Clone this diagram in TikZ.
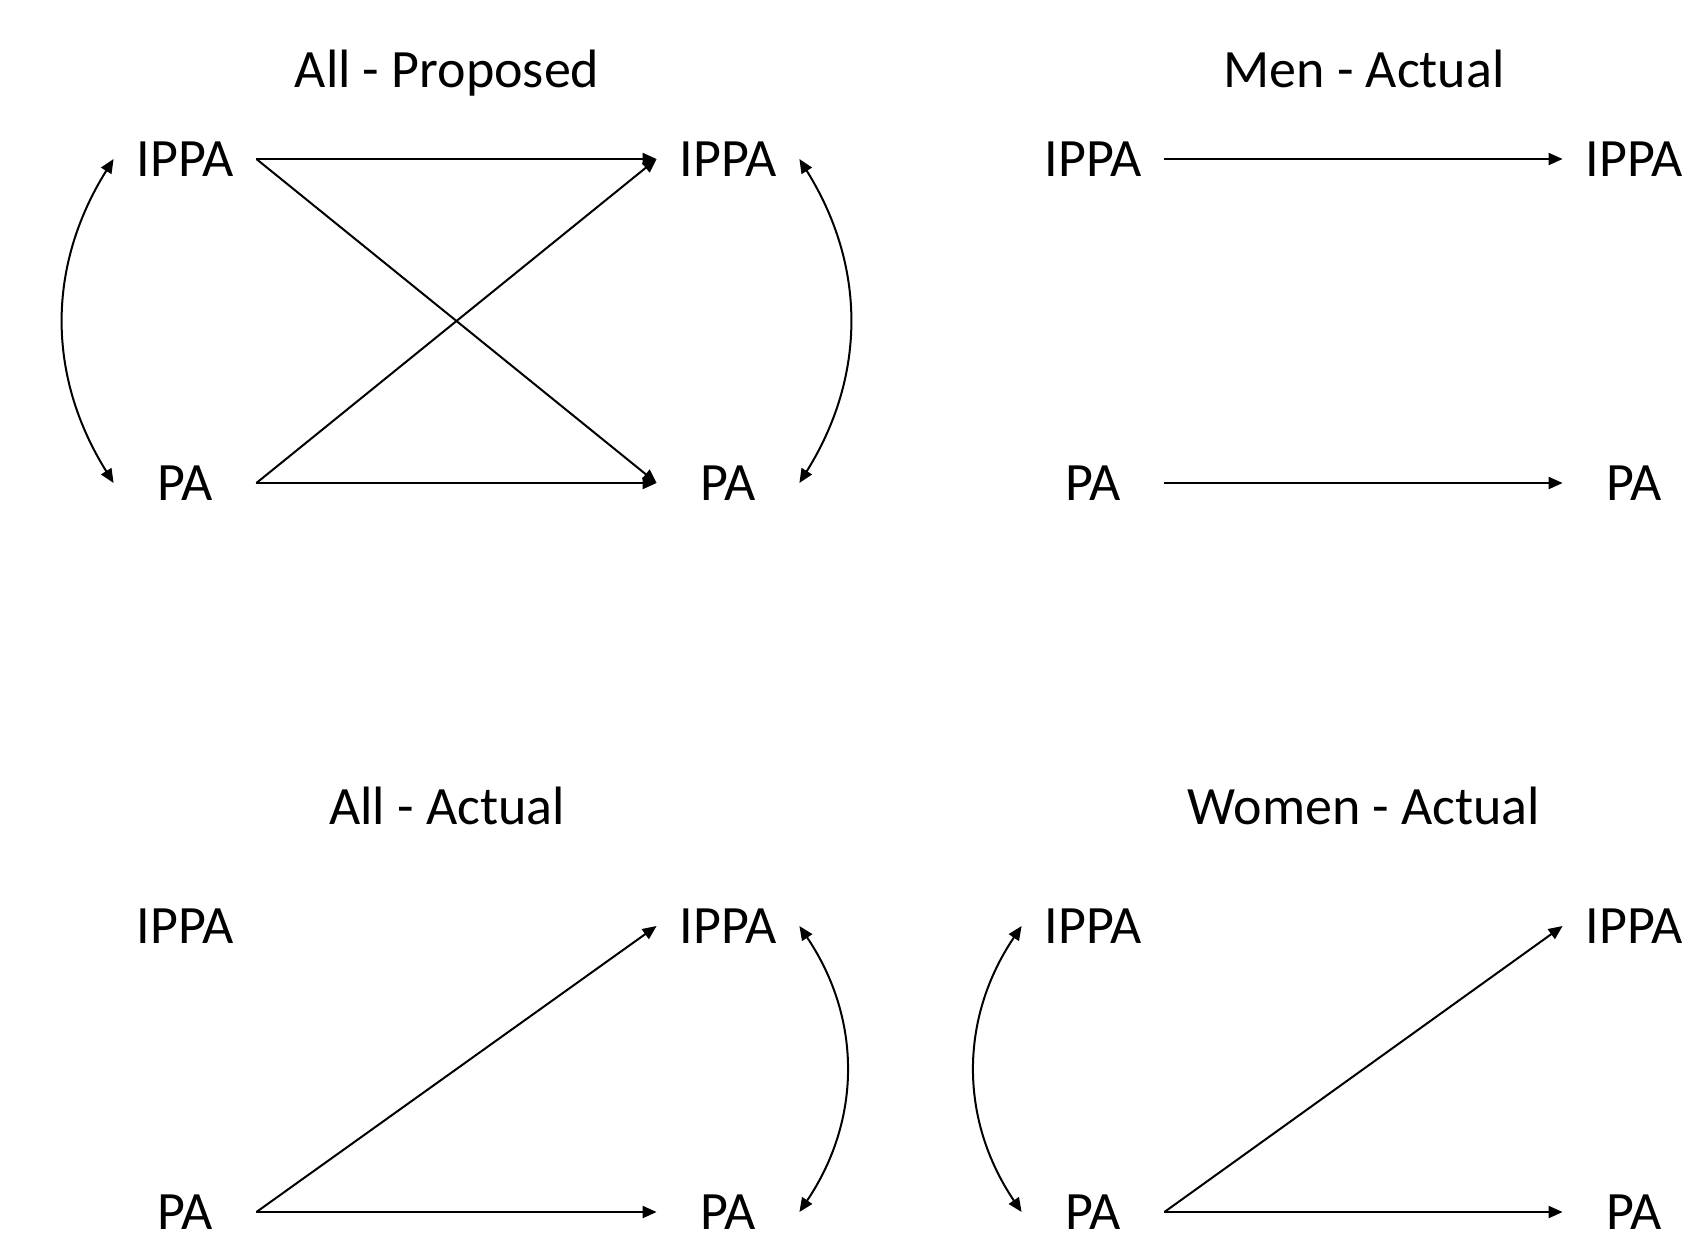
\documentclass[tikz,border=0pt]{standalone}
\usepackage{fontspec}
\setmainfont{Carlito}
\usetikzlibrary{arrows.meta}
\begin{document}
\begin{tikzpicture}[x=0.5pt,y=-0.5pt,
  var/.style={font=\fontsize{27}{32}\selectfont, minimum width=71pt, inner sep=0pt, anchor=center},
  ttl/.style={font=\fontsize{27}{32}\selectfont, anchor=base, inner sep=0pt},
  arr/.style={-{Triangle[length=7pt,width=6pt]}, line width=1pt},
  darr/.style={{Triangle[length=7pt,width=6pt]}-{Triangle[length=7pt,width=6pt]}, line width=1pt}]
\useasboundingbox (0,0) rectangle (1708,1239);
% All - Proposed
\node[ttl] (t1) at (447,87) {All - Proposed};
\node[var] (a1) at (185,159) {IPPA};
\node[var] (a2) at (185,483) {PA};
\node[var] (a3) at (728,159) {IPPA};
\node[var] (a4) at (728,483) {PA};
\draw[arr] (a1.east) -- (a3.west);
\draw[arr] (a1.east) -- (a4.west);
\draw[arr] (a2.east) -- (a3.west);
\draw[arr] (a2.east) -- (a4.west);
\draw[darr] (a1.west) to[bend right=32] (a2.west);
\draw[darr] (a3.east) to[bend left=32] (a4.east);
% Men - Actual
\node[ttl] (t2) at (1364,87) {Men - Actual};
\node[var] (b1) at (1093,159) {IPPA};
\node[var] (b2) at (1093,483) {PA};
\node[var] (b3) at (1634,159) {IPPA};
\node[var] (b4) at (1634,483) {PA};
\draw[arr] (b1.east) -- (b3.west);
\draw[arr] (b2.east) -- (b4.west);
% All - Actual
\node[ttl] (t3) at (447,824) {All - Actual};
\node[var] (c1) at (185,926) {IPPA};
\node[var] (c2) at (185,1212) {PA};
\node[var] (c3) at (728,926) {IPPA};
\node[var] (c4) at (728,1212) {PA};
\draw[arr] (c2.east) -- (c3.west);
\draw[arr] (c2.east) -- (c4.west);
\draw[darr] (c3.east) to[bend left=34] (c4.east);
% Women - Actual
\node[ttl] (t4) at (1364,824) {Women - Actual};
\node[var] (d1) at (1093,926) {IPPA};
\node[var] (d2) at (1093,1212) {PA};
\node[var] (d3) at (1634,926) {IPPA};
\node[var] (d4) at (1634,1212) {PA};
\draw[arr] (d2.east) -- (d3.west);
\draw[arr] (d2.east) -- (d4.west);
\draw[darr] (d1.west) to[bend right=34] (d2.west);
\end{tikzpicture}
\end{document}
